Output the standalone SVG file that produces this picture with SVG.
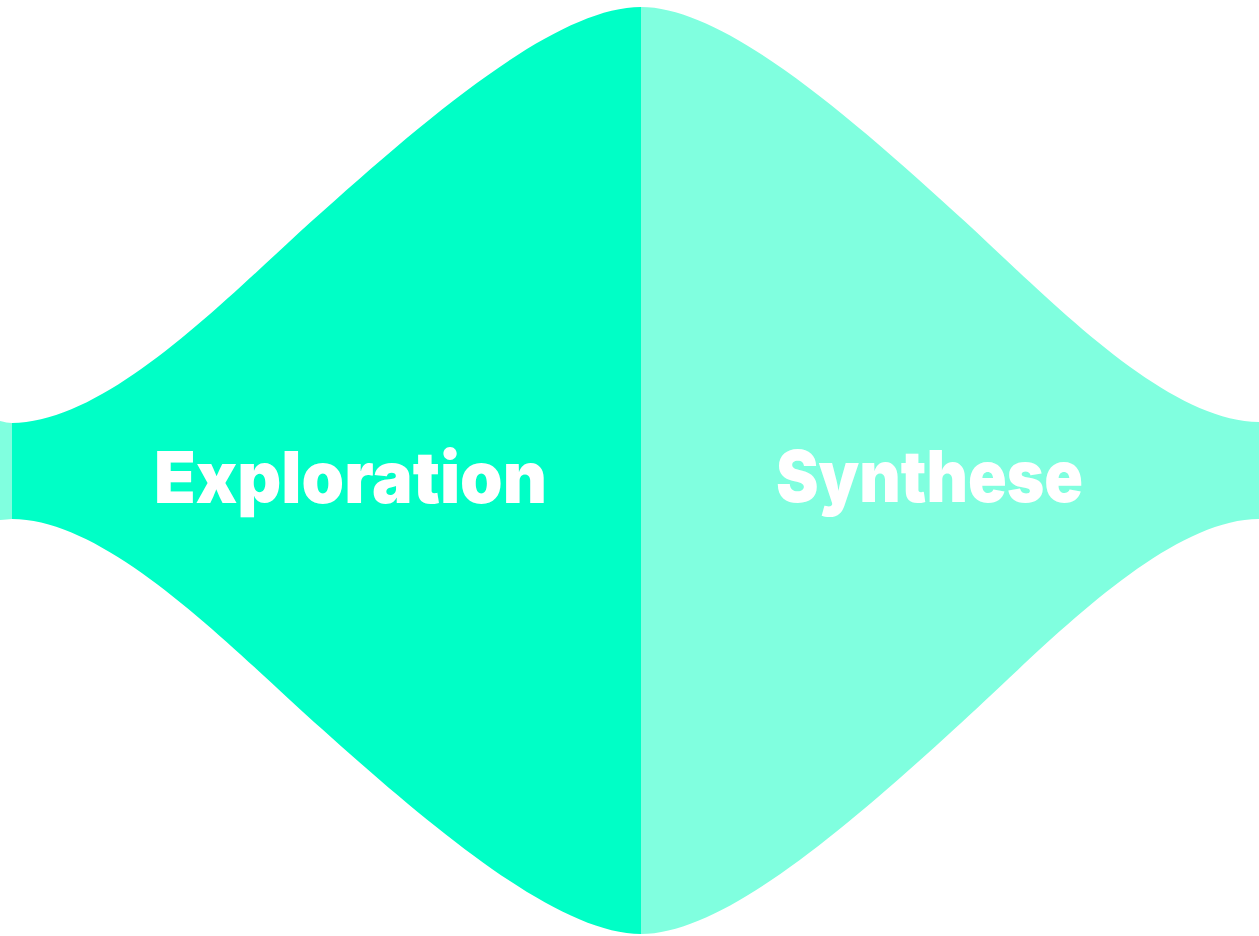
<svg xmlns="http://www.w3.org/2000/svg" width="1259" height="936" viewBox="0 0 1259 936">
<style>
.lbl{font-family:"Inter","Liberation Sans",sans-serif;font-weight:900;font-size:72px;fill:#ffffff}
</style>
<rect width="1259" height="936" fill="#ffffff"/>
<g id="synthese">
<path d="M0,421 C5,422 8,423 12,423 L12,519 C8,519 5,520 0,520 Z" fill="#80FFDF"/>
<path d="M641,7 C720,7 836.5,104 954.4,212 C1035,284 1161,422 1259,422 L1259,519 C1161,519 1035,657 954.4,729 C836.5,837 720,934 641,934 Z" fill="#80FFDF"/>
<text class="lbl" x="776" y="502" textLength="307" lengthAdjust="spacingAndGlyphs">Synthese</text>
</g>
<g id="exploration">
<path d="M12,423 C112,423 240,284 322,212 C442,104 561,7 641,7 L641,934 C561,934 442,837 322,729 C240,657 112,519 12,519 Z" fill="#00FFC6"/>
<text class="lbl" x="154" y="503" textLength="393" lengthAdjust="spacingAndGlyphs">Exploration</text>
</g>
<g id="connectors"/>
</svg>
